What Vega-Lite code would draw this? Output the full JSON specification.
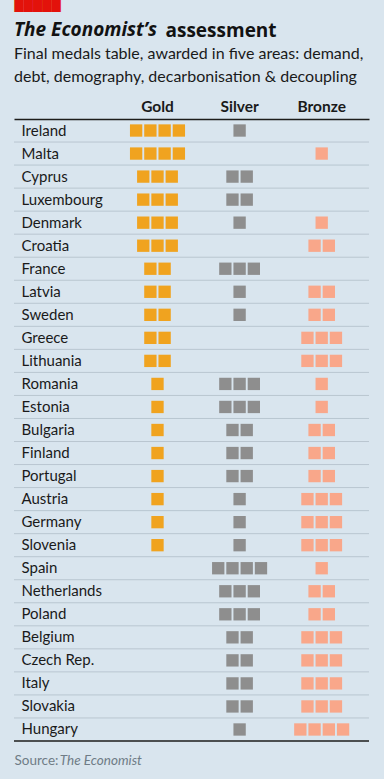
{
  "$schema": "https://vega.github.io/schema/vega-lite/v6.json",
  "width": 355,
  "height": 622,
  "autosize": "none",
  "padding": {"left": 14, "top": 119, "right": 15, "bottom": 38},
  "background": "#d9e5ee",
  "config": {"view": {"stroke": null}, "font": "Lato"},
  "title": {
    "text": "The Economist’s",
    "subtitle": ["Final medals table, awarded in five areas: demand,", "debt, demography, decarbonisation & decoupling"],
    "anchor": "start",
    "frame": "group",
    "font": "Open Sans",
    "fontSize": 19,
    "fontWeight": "bold",
    "fontStyle": "italic",
    "color": "#121212",
    "subtitleFont": "Lato",
    "subtitleFontSize": 16,
    "subtitleColor": "#1a1a1a",
    "subtitleLineHeight": 23,
    "subtitlePadding": 6,
    "offset": -86
  },
  "datasets": {
    "medals": [
      {"c": "Ireland", "m": "Gold", "n": 1}, {"c": "Ireland", "m": "Gold", "n": 1}, {"c": "Ireland", "m": "Gold", "n": 1}, {"c": "Ireland", "m": "Gold", "n": 1}, {"c": "Ireland", "m": "Silver", "n": 1},
      {"c": "Malta", "m": "Gold", "n": 1}, {"c": "Malta", "m": "Gold", "n": 1}, {"c": "Malta", "m": "Gold", "n": 1}, {"c": "Malta", "m": "Gold", "n": 1}, {"c": "Malta", "m": "Bronze", "n": 1},
      {"c": "Cyprus", "m": "Gold", "n": 1}, {"c": "Cyprus", "m": "Gold", "n": 1}, {"c": "Cyprus", "m": "Gold", "n": 1}, {"c": "Cyprus", "m": "Silver", "n": 1}, {"c": "Cyprus", "m": "Silver", "n": 1},
      {"c": "Luxembourg", "m": "Gold", "n": 1}, {"c": "Luxembourg", "m": "Gold", "n": 1}, {"c": "Luxembourg", "m": "Gold", "n": 1}, {"c": "Luxembourg", "m": "Silver", "n": 1}, {"c": "Luxembourg", "m": "Silver", "n": 1},
      {"c": "Denmark", "m": "Gold", "n": 1}, {"c": "Denmark", "m": "Gold", "n": 1}, {"c": "Denmark", "m": "Gold", "n": 1}, {"c": "Denmark", "m": "Silver", "n": 1}, {"c": "Denmark", "m": "Bronze", "n": 1},
      {"c": "Croatia", "m": "Gold", "n": 1}, {"c": "Croatia", "m": "Gold", "n": 1}, {"c": "Croatia", "m": "Gold", "n": 1}, {"c": "Croatia", "m": "Bronze", "n": 1}, {"c": "Croatia", "m": "Bronze", "n": 1},
      {"c": "France", "m": "Gold", "n": 1}, {"c": "France", "m": "Gold", "n": 1}, {"c": "France", "m": "Silver", "n": 1}, {"c": "France", "m": "Silver", "n": 1}, {"c": "France", "m": "Silver", "n": 1},
      {"c": "Latvia", "m": "Gold", "n": 1}, {"c": "Latvia", "m": "Gold", "n": 1}, {"c": "Latvia", "m": "Silver", "n": 1}, {"c": "Latvia", "m": "Bronze", "n": 1}, {"c": "Latvia", "m": "Bronze", "n": 1},
      {"c": "Sweden", "m": "Gold", "n": 1}, {"c": "Sweden", "m": "Gold", "n": 1}, {"c": "Sweden", "m": "Silver", "n": 1}, {"c": "Sweden", "m": "Bronze", "n": 1}, {"c": "Sweden", "m": "Bronze", "n": 1},
      {"c": "Greece", "m": "Gold", "n": 1}, {"c": "Greece", "m": "Gold", "n": 1}, {"c": "Greece", "m": "Bronze", "n": 1}, {"c": "Greece", "m": "Bronze", "n": 1}, {"c": "Greece", "m": "Bronze", "n": 1},
      {"c": "Lithuania", "m": "Gold", "n": 1}, {"c": "Lithuania", "m": "Gold", "n": 1}, {"c": "Lithuania", "m": "Bronze", "n": 1}, {"c": "Lithuania", "m": "Bronze", "n": 1}, {"c": "Lithuania", "m": "Bronze", "n": 1},
      {"c": "Romania", "m": "Gold", "n": 1}, {"c": "Romania", "m": "Silver", "n": 1}, {"c": "Romania", "m": "Silver", "n": 1}, {"c": "Romania", "m": "Silver", "n": 1}, {"c": "Romania", "m": "Bronze", "n": 1},
      {"c": "Estonia", "m": "Gold", "n": 1}, {"c": "Estonia", "m": "Silver", "n": 1}, {"c": "Estonia", "m": "Silver", "n": 1}, {"c": "Estonia", "m": "Silver", "n": 1}, {"c": "Estonia", "m": "Bronze", "n": 1},
      {"c": "Bulgaria", "m": "Gold", "n": 1}, {"c": "Bulgaria", "m": "Silver", "n": 1}, {"c": "Bulgaria", "m": "Silver", "n": 1}, {"c": "Bulgaria", "m": "Bronze", "n": 1}, {"c": "Bulgaria", "m": "Bronze", "n": 1},
      {"c": "Finland", "m": "Gold", "n": 1}, {"c": "Finland", "m": "Silver", "n": 1}, {"c": "Finland", "m": "Silver", "n": 1}, {"c": "Finland", "m": "Bronze", "n": 1}, {"c": "Finland", "m": "Bronze", "n": 1},
      {"c": "Portugal", "m": "Gold", "n": 1}, {"c": "Portugal", "m": "Silver", "n": 1}, {"c": "Portugal", "m": "Silver", "n": 1}, {"c": "Portugal", "m": "Bronze", "n": 1}, {"c": "Portugal", "m": "Bronze", "n": 1},
      {"c": "Austria", "m": "Gold", "n": 1}, {"c": "Austria", "m": "Silver", "n": 1}, {"c": "Austria", "m": "Bronze", "n": 1}, {"c": "Austria", "m": "Bronze", "n": 1}, {"c": "Austria", "m": "Bronze", "n": 1},
      {"c": "Germany", "m": "Gold", "n": 1}, {"c": "Germany", "m": "Silver", "n": 1}, {"c": "Germany", "m": "Bronze", "n": 1}, {"c": "Germany", "m": "Bronze", "n": 1}, {"c": "Germany", "m": "Bronze", "n": 1},
      {"c": "Slovenia", "m": "Gold", "n": 1}, {"c": "Slovenia", "m": "Silver", "n": 1}, {"c": "Slovenia", "m": "Bronze", "n": 1}, {"c": "Slovenia", "m": "Bronze", "n": 1}, {"c": "Slovenia", "m": "Bronze", "n": 1},
      {"c": "Spain", "m": "Silver", "n": 1}, {"c": "Spain", "m": "Silver", "n": 1}, {"c": "Spain", "m": "Silver", "n": 1}, {"c": "Spain", "m": "Silver", "n": 1}, {"c": "Spain", "m": "Bronze", "n": 1},
      {"c": "Netherlands", "m": "Silver", "n": 1}, {"c": "Netherlands", "m": "Silver", "n": 1}, {"c": "Netherlands", "m": "Silver", "n": 1}, {"c": "Netherlands", "m": "Bronze", "n": 1}, {"c": "Netherlands", "m": "Bronze", "n": 1},
      {"c": "Poland", "m": "Silver", "n": 1}, {"c": "Poland", "m": "Silver", "n": 1}, {"c": "Poland", "m": "Silver", "n": 1}, {"c": "Poland", "m": "Bronze", "n": 1}, {"c": "Poland", "m": "Bronze", "n": 1},
      {"c": "Belgium", "m": "Silver", "n": 1}, {"c": "Belgium", "m": "Silver", "n": 1}, {"c": "Belgium", "m": "Bronze", "n": 1}, {"c": "Belgium", "m": "Bronze", "n": 1}, {"c": "Belgium", "m": "Bronze", "n": 1},
      {"c": "Czech Rep.", "m": "Silver", "n": 1}, {"c": "Czech Rep.", "m": "Silver", "n": 1}, {"c": "Czech Rep.", "m": "Bronze", "n": 1}, {"c": "Czech Rep.", "m": "Bronze", "n": 1}, {"c": "Czech Rep.", "m": "Bronze", "n": 1},
      {"c": "Italy", "m": "Silver", "n": 1}, {"c": "Italy", "m": "Silver", "n": 1}, {"c": "Italy", "m": "Bronze", "n": 1}, {"c": "Italy", "m": "Bronze", "n": 1}, {"c": "Italy", "m": "Bronze", "n": 1},
      {"c": "Slovakia", "m": "Silver", "n": 1}, {"c": "Slovakia", "m": "Silver", "n": 1}, {"c": "Slovakia", "m": "Bronze", "n": 1}, {"c": "Slovakia", "m": "Bronze", "n": 1}, {"c": "Slovakia", "m": "Bronze", "n": 1},
      {"c": "Hungary", "m": "Silver", "n": 1}, {"c": "Hungary", "m": "Bronze", "n": 1}, {"c": "Hungary", "m": "Bronze", "n": 1}, {"c": "Hungary", "m": "Bronze", "n": 1}, {"c": "Hungary", "m": "Bronze", "n": 1}
    ]
  },
  "data": {"name": "medals"},
  "transform": [
    {"stack": "n", "groupby": ["c", "m"], "offset": "center", "as": ["s0", "s1"]}
  ],
  "layer": [
    {
      "transform": [{"aggregate": [], "groupby": ["c"]}],
      "mark": {"type": "rule"},
      "encoding": {
        "y": {
          "field": "c", "type": "nominal", "bandPosition": 1,
          "sort": ["Ireland", "Malta", "Cyprus", "Luxembourg", "Denmark", "Croatia", "France", "Latvia", "Sweden", "Greece", "Lithuania", "Romania", "Estonia", "Bulgaria", "Finland", "Portugal", "Austria", "Germany", "Slovenia", "Spain", "Netherlands", "Poland", "Belgium", "Czech Rep.", "Italy", "Slovakia", "Hungary"],
          "scale": {"paddingInner": 0, "paddingOuter": 0},
          "axis": {
            "orient": "right", "labels": false, "ticks": false, "domain": false, "grid": false,
            "title": "Source:", "titleAngle": 0, "titleX": -355, "titleY": 645,
            "titleAlign": "left", "titleBaseline": "alphabetic",
            "titleFont": "Lato", "titleFontSize": 13.5, "titleFontWeight": "normal", "titleColor": "#6f7c86"
          }
        },
        "color": {"condition": {"test": "datum.c === 'Hungary'", "value": "#1d1d1b"}, "value": "#b9c6d0"},
        "strokeWidth": {"condition": {"test": "datum.c === 'Hungary'", "value": 1.5}, "value": 1}
      }
    },
    {
      "transform": [{"filter": "datum.m !== 'Bronze'"}],
      "mark": {"type": "square", "size": 152, "opacity": 1},
      "encoding": {
        "x": {
          "field": "m", "type": "nominal",
          "scale": {"domain": ["Gold", "Silver", "Bronze"], "paddingInner": 0, "paddingOuter": 0.662, "align": 0.9425},
          "axis": {
            "orient": "top", "ticks": false, "tickSize": 0, "labelPadding": 5, "labelAngle": 0,
            "labelFont": "Lato", "labelFontSize": 15.5, "labelFontWeight": "bold", "labelColor": "#1a1a1a",
            "domain": true, "domainColor": "#1d1d1b", "domainWidth": 1.5, "grid": false,
            "title": "█████", "titleX": 0, "titleY": -110.1, "titleAngle": 0,
            "titleAlign": "left", "titleBaseline": "alphabetic",
            "titleFont": "DejaVu Sans", "titleFontSize": 12, "titleFontWeight": "normal", "titleColor": "#e3120b"
          }
        },
        "xOffset": {"field": "s0", "type": "quantitative", "scale": {"domain": [-1.38, 4.38], "nice": false, "zero": false}},
        "y": {
          "field": "c", "type": "nominal",
          "sort": ["Ireland", "Malta", "Cyprus", "Luxembourg", "Denmark", "Croatia", "France", "Latvia", "Sweden", "Greece", "Lithuania", "Romania", "Estonia", "Bulgaria", "Finland", "Portugal", "Austria", "Germany", "Slovenia", "Spain", "Netherlands", "Poland", "Belgium", "Czech Rep.", "Italy", "Slovakia", "Hungary"],
          "axis": {
            "orient": "left", "ticks": false, "tickSize": 0, "domain": false, "grid": false,
            "labelAlign": "left", "labelPadding": -7, "labelBaseline": "middle",
            "labelFont": "Lato", "labelFontSize": 15, "labelColor": "#1a1a1a",
            "title": "assessment", "titleAngle": 0, "titleX": 151, "titleY": -83,
            "titleAlign": "left", "titleBaseline": "alphabetic",
            "titleFont": "Open Sans", "titleFontSize": 19, "titleFontWeight": "bold", "titleColor": "#121212"
          }
        },
        "color": {"field": "m", "type": "nominal", "scale": {"domain": ["Gold", "Silver", "Bronze"], "range": ["#f0a31f", "#8e8e8e", "#f9a78a"]}, "legend": null}
      }
    },
    {
      "transform": [{"filter": "datum.m === 'Bronze'"}],
      "mark": {"type": "square", "size": 152, "opacity": 1},
      "encoding": {
        "x": {
          "field": "m", "type": "nominal",
          "axis": {
            "orient": "bottom", "labels": false, "ticks": false, "domain": false, "grid": false,
            "title": "The Economist", "titleX": 45.3, "titleY": 23, "titleAngle": 0,
            "titleAlign": "left", "titleBaseline": "alphabetic",
            "titleFont": "Lato", "titleFontSize": 13.5, "titleFontWeight": "normal", "titleFontStyle": "italic", "titleColor": "#6f7c86"
          }
        },
        "xOffset": {"field": "s0", "type": "quantitative"},
        "y": {"field": "c", "type": "nominal", "sort": ["Ireland", "Malta", "Cyprus", "Luxembourg", "Denmark", "Croatia", "France", "Latvia", "Sweden", "Greece", "Lithuania", "Romania", "Estonia", "Bulgaria", "Finland", "Portugal", "Austria", "Germany", "Slovenia", "Spain", "Netherlands", "Poland", "Belgium", "Czech Rep.", "Italy", "Slovakia", "Hungary"], "axis": null},
        "color": {"field": "m", "type": "nominal"}
      }
    }
  ]
}
